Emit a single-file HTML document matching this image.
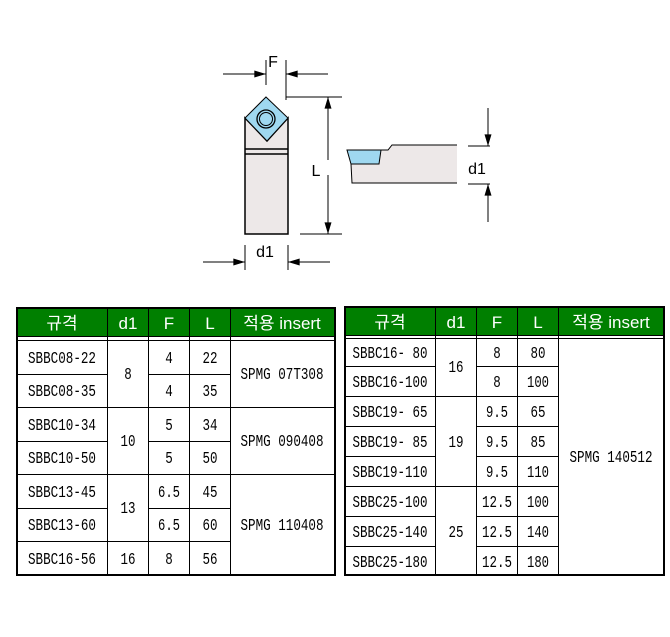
<!DOCTYPE html>
<html><head><meta charset="utf-8"><style>
html,body{margin:0;padding:0;background:#fff;width:670px;height:637px;overflow:hidden}
svg{display:block}
text{font-family:"Liberation Sans","Noto Sans CJK KR",sans-serif;}
.c{font-size:17px;fill:#000;text-anchor:middle;font-family:"Liberation Mono",monospace;}
.h{font-size:17px;fill:#fff;text-anchor:middle;}
.d{font-size:16px;fill:#000;text-anchor:middle}
</style></head><body>
<svg width="670" height="637" viewBox="0 0 670 637" xmlns="http://www.w3.org/2000/svg">
<defs>
<marker id="a" viewBox="0 0 10 6" refX="10" refY="3" markerWidth="18" markerHeight="7" markerUnits="userSpaceOnUse" orient="auto"><path d="M0,0 L10,3 L0,6z" fill="#000"/></marker>
</defs>
<g stroke="#000" stroke-width="1" fill="none">
<line x1="266" y1="60" x2="266" y2="85"/>
<line x1="286" y1="60" x2="286" y2="100"/>
<line x1="223" y1="74" x2="266" y2="74" marker-end="url(#a)"/>
<line x1="328" y1="74" x2="286" y2="74" marker-end="url(#a)"/>
<line x1="286" y1="97" x2="342" y2="97"/>
<line x1="300" y1="234" x2="342" y2="234"/>
<line x1="328" y1="160" x2="328" y2="97" marker-end="url(#a)"/>
<line x1="328" y1="175" x2="328" y2="234" marker-end="url(#a)"/>
<line x1="245" y1="245" x2="245" y2="270"/>
<line x1="288" y1="245" x2="288" y2="270"/>
<line x1="203" y1="262" x2="245" y2="262" marker-end="url(#a)"/>
<line x1="330" y1="262" x2="288" y2="262" marker-end="url(#a)"/>
<line x1="468" y1="146" x2="490" y2="146"/>
<line x1="468" y1="184" x2="490" y2="184"/>
<line x1="488" y1="108" x2="488" y2="146" marker-end="url(#a)"/>
<line x1="488" y1="222" x2="488" y2="184" marker-end="url(#a)"/>
</g>
<path d="M245,118 L267,141 L288,118 L288,234 L245,234 Z" fill="#ede8e8" stroke="#000" stroke-width="1.5"/>
<line x1="245" y1="149" x2="288" y2="149" stroke="#000" stroke-width="1.5"/>
<line x1="245" y1="154" x2="288" y2="154" stroke="#000" stroke-width="1.5"/>
<path d="M266,97 L288,118 L267,141 L245,118 Z" fill="#9fd8f0" stroke="#000" stroke-width="1"/>
<circle cx="266" cy="119" r="9" fill="#9fd8f0" stroke="#000" stroke-width="1.3"/>
<circle cx="266" cy="119" r="6.5" fill="none" stroke="#000" stroke-width="1"/>
<path d="M351,164 L379,164 L381,150 L388,150 L392,145 L457,145 L457,183 L352,183 Z" fill="#ede8e8"/>
<path d="M457,145 L392,145 L388,150 L381,150" fill="none" stroke="#000" stroke-width="1"/>
<path d="M351,164 L352,183 L457,183" fill="none" stroke="#000" stroke-width="1"/>
<path d="M347,150 L381,150 L379,164 L351,164 Z" fill="#9fd8f0" stroke="#000" stroke-width="1"/>
<text class="d" x="273" y="67">F</text>
<text class="d" x="316" y="176">L</text>
<text class="d" x="265" y="257">d1</text>
<text class="d" x="477" y="174">d1</text>

<rect x="17" y="308" width="318" height="267" fill="#fff" stroke="#000" stroke-width="2"/>
<rect x="18" y="309" width="316" height="27" fill="#007f00"/>
<g stroke="#000" stroke-width="1">
<line x1="17" y1="336.5" x2="335" y2="336.5"/>
<line x1="17" y1="340.5" x2="335" y2="340.5"/>
<line x1="107.5" y1="309" x2="107.5" y2="575"/>
<line x1="148.5" y1="309" x2="148.5" y2="575"/>
<line x1="189.5" y1="309" x2="189.5" y2="575"/>
<line x1="230.5" y1="309" x2="230.5" y2="575"/>
<line x1="17" y1="374.5" x2="107" y2="374.5"/>
<line x1="148" y1="374.5" x2="230" y2="374.5"/>
<line x1="17" y1="407.5" x2="335" y2="407.5"/>
<line x1="17" y1="441.5" x2="107" y2="441.5"/>
<line x1="148" y1="441.5" x2="230" y2="441.5"/>
<line x1="17" y1="474.5" x2="335" y2="474.5"/>
<line x1="17" y1="508.5" x2="107" y2="508.5"/>
<line x1="148" y1="508.5" x2="230" y2="508.5"/>
<line x1="17" y1="541.5" x2="230" y2="541.5"/>
</g>
<text class="h" x="62" y="329">규격</text><text class="h" x="128" y="329">d1</text><text class="h" x="169" y="329">F</text><text class="h" x="210" y="329">L</text><text class="h" x="282" y="329">적용 insert</text>
<text class="c" x="62" y="363" textLength="68" lengthAdjust="spacingAndGlyphs">SBBC08-22</text><text class="c" x="169" y="363" textLength="7.5" lengthAdjust="spacingAndGlyphs">4</text><text class="c" x="210" y="363" textLength="15" lengthAdjust="spacingAndGlyphs">22</text>
<text class="c" x="62" y="396" textLength="68" lengthAdjust="spacingAndGlyphs">SBBC08-35</text><text class="c" x="169" y="396" textLength="7.5" lengthAdjust="spacingAndGlyphs">4</text><text class="c" x="210" y="396" textLength="15" lengthAdjust="spacingAndGlyphs">35</text>
<text class="c" x="128" y="379" textLength="7.5" lengthAdjust="spacingAndGlyphs">8</text><text class="c" x="282" y="379" textLength="83" lengthAdjust="spacingAndGlyphs">SPMG 07T308</text>
<text class="c" x="62" y="430" textLength="68" lengthAdjust="spacingAndGlyphs">SBBC10-34</text><text class="c" x="169" y="430" textLength="7.5" lengthAdjust="spacingAndGlyphs">5</text><text class="c" x="210" y="430" textLength="15" lengthAdjust="spacingAndGlyphs">34</text>
<text class="c" x="62" y="463" textLength="68" lengthAdjust="spacingAndGlyphs">SBBC10-50</text><text class="c" x="169" y="463" textLength="7.5" lengthAdjust="spacingAndGlyphs">5</text><text class="c" x="210" y="463" textLength="15" lengthAdjust="spacingAndGlyphs">50</text>
<text class="c" x="128" y="446" textLength="15" lengthAdjust="spacingAndGlyphs">10</text><text class="c" x="282" y="446" textLength="83" lengthAdjust="spacingAndGlyphs">SPMG 090408</text>
<text class="c" x="62" y="497" textLength="68" lengthAdjust="spacingAndGlyphs">SBBC13-45</text><text class="c" x="169" y="497" textLength="22" lengthAdjust="spacingAndGlyphs">6.5</text><text class="c" x="210" y="497" textLength="15" lengthAdjust="spacingAndGlyphs">45</text>
<text class="c" x="62" y="530" textLength="68" lengthAdjust="spacingAndGlyphs">SBBC13-60</text><text class="c" x="169" y="530" textLength="22" lengthAdjust="spacingAndGlyphs">6.5</text><text class="c" x="210" y="530" textLength="15" lengthAdjust="spacingAndGlyphs">60</text>
<text class="c" x="128" y="513" textLength="15" lengthAdjust="spacingAndGlyphs">13</text><text class="c" x="282" y="530" textLength="83" lengthAdjust="spacingAndGlyphs">SPMG 110408</text>
<text class="c" x="62" y="564" textLength="68" lengthAdjust="spacingAndGlyphs">SBBC16-56</text><text class="c" x="128" y="564" textLength="15" lengthAdjust="spacingAndGlyphs">16</text><text class="c" x="169" y="564" textLength="7.5" lengthAdjust="spacingAndGlyphs">8</text><text class="c" x="210" y="564" textLength="15" lengthAdjust="spacingAndGlyphs">56</text>

<rect x="345" y="307" width="319" height="268" fill="#fff" stroke="#000" stroke-width="2"/>
<rect x="346" y="308" width="317" height="27" fill="#007f00"/>
<g stroke="#000" stroke-width="1">
<line x1="345" y1="335.5" x2="664" y2="335.5"/>
<line x1="345" y1="338.5" x2="664" y2="338.5"/>
<line x1="435.5" y1="308" x2="435.5" y2="575"/>
<line x1="476.5" y1="308" x2="476.5" y2="575"/>
<line x1="517.5" y1="308" x2="517.5" y2="575"/>
<line x1="558.5" y1="308" x2="558.5" y2="575"/>
<line x1="345" y1="366.5" x2="435" y2="366.5"/><line x1="476" y1="366.5" x2="558" y2="366.5"/>
<line x1="345" y1="396.5" x2="558" y2="396.5"/>
<line x1="345" y1="426.5" x2="435" y2="426.5"/><line x1="476" y1="426.5" x2="558" y2="426.5"/>
<line x1="345" y1="456.5" x2="435" y2="456.5"/><line x1="476" y1="456.5" x2="558" y2="456.5"/>
<line x1="345" y1="486.5" x2="558" y2="486.5"/>
<line x1="345" y1="516.5" x2="435" y2="516.5"/><line x1="476" y1="516.5" x2="558" y2="516.5"/>
<line x1="345" y1="546.5" x2="435" y2="546.5"/><line x1="476" y1="546.5" x2="558" y2="546.5"/>
</g>
<text class="h" x="390" y="328">규격</text><text class="h" x="456" y="328">d1</text><text class="h" x="497" y="328">F</text><text class="h" x="538" y="328">L</text><text class="h" x="611" y="328">적용 insert</text>
<text class="c" x="390" y="358" textLength="75" lengthAdjust="spacingAndGlyphs">SBBC16- 80</text><text class="c" x="497" y="358" textLength="7.5" lengthAdjust="spacingAndGlyphs">8</text><text class="c" x="538" y="358" textLength="15" lengthAdjust="spacingAndGlyphs">80</text>
<text class="c" x="390" y="387" textLength="75" lengthAdjust="spacingAndGlyphs">SBBC16-100</text><text class="c" x="497" y="387" textLength="7.5" lengthAdjust="spacingAndGlyphs">8</text><text class="c" x="538" y="387" textLength="22" lengthAdjust="spacingAndGlyphs">100</text>
<text class="c" x="456" y="372" textLength="15" lengthAdjust="spacingAndGlyphs">16</text>
<text class="c" x="390" y="417" textLength="75" lengthAdjust="spacingAndGlyphs">SBBC19- 65</text><text class="c" x="497" y="417" textLength="22" lengthAdjust="spacingAndGlyphs">9.5</text><text class="c" x="538" y="417" textLength="15" lengthAdjust="spacingAndGlyphs">65</text>
<text class="c" x="390" y="447" textLength="75" lengthAdjust="spacingAndGlyphs">SBBC19- 85</text><text class="c" x="497" y="447" textLength="22" lengthAdjust="spacingAndGlyphs">9.5</text><text class="c" x="538" y="447" textLength="15" lengthAdjust="spacingAndGlyphs">85</text>
<text class="c" x="390" y="477" textLength="75" lengthAdjust="spacingAndGlyphs">SBBC19-110</text><text class="c" x="497" y="477" textLength="22" lengthAdjust="spacingAndGlyphs">9.5</text><text class="c" x="538" y="477" textLength="22" lengthAdjust="spacingAndGlyphs">110</text>
<text class="c" x="456" y="447" textLength="15" lengthAdjust="spacingAndGlyphs">19</text>
<text class="c" x="390" y="507" textLength="75" lengthAdjust="spacingAndGlyphs">SBBC25-100</text><text class="c" x="497" y="507" textLength="30" lengthAdjust="spacingAndGlyphs">12.5</text><text class="c" x="538" y="507" textLength="22" lengthAdjust="spacingAndGlyphs">100</text>
<text class="c" x="390" y="537" textLength="75" lengthAdjust="spacingAndGlyphs">SBBC25-140</text><text class="c" x="497" y="537" textLength="30" lengthAdjust="spacingAndGlyphs">12.5</text><text class="c" x="538" y="537" textLength="22" lengthAdjust="spacingAndGlyphs">140</text>
<text class="c" x="390" y="567" textLength="75" lengthAdjust="spacingAndGlyphs">SBBC25-180</text><text class="c" x="497" y="567" textLength="30" lengthAdjust="spacingAndGlyphs">12.5</text><text class="c" x="538" y="567" textLength="22" lengthAdjust="spacingAndGlyphs">180</text>
<text class="c" x="456" y="537" textLength="15" lengthAdjust="spacingAndGlyphs">25</text>
<text class="c" x="611" y="462" textLength="83" lengthAdjust="spacingAndGlyphs">SPMG 140512</text>
</svg>
</body></html>
